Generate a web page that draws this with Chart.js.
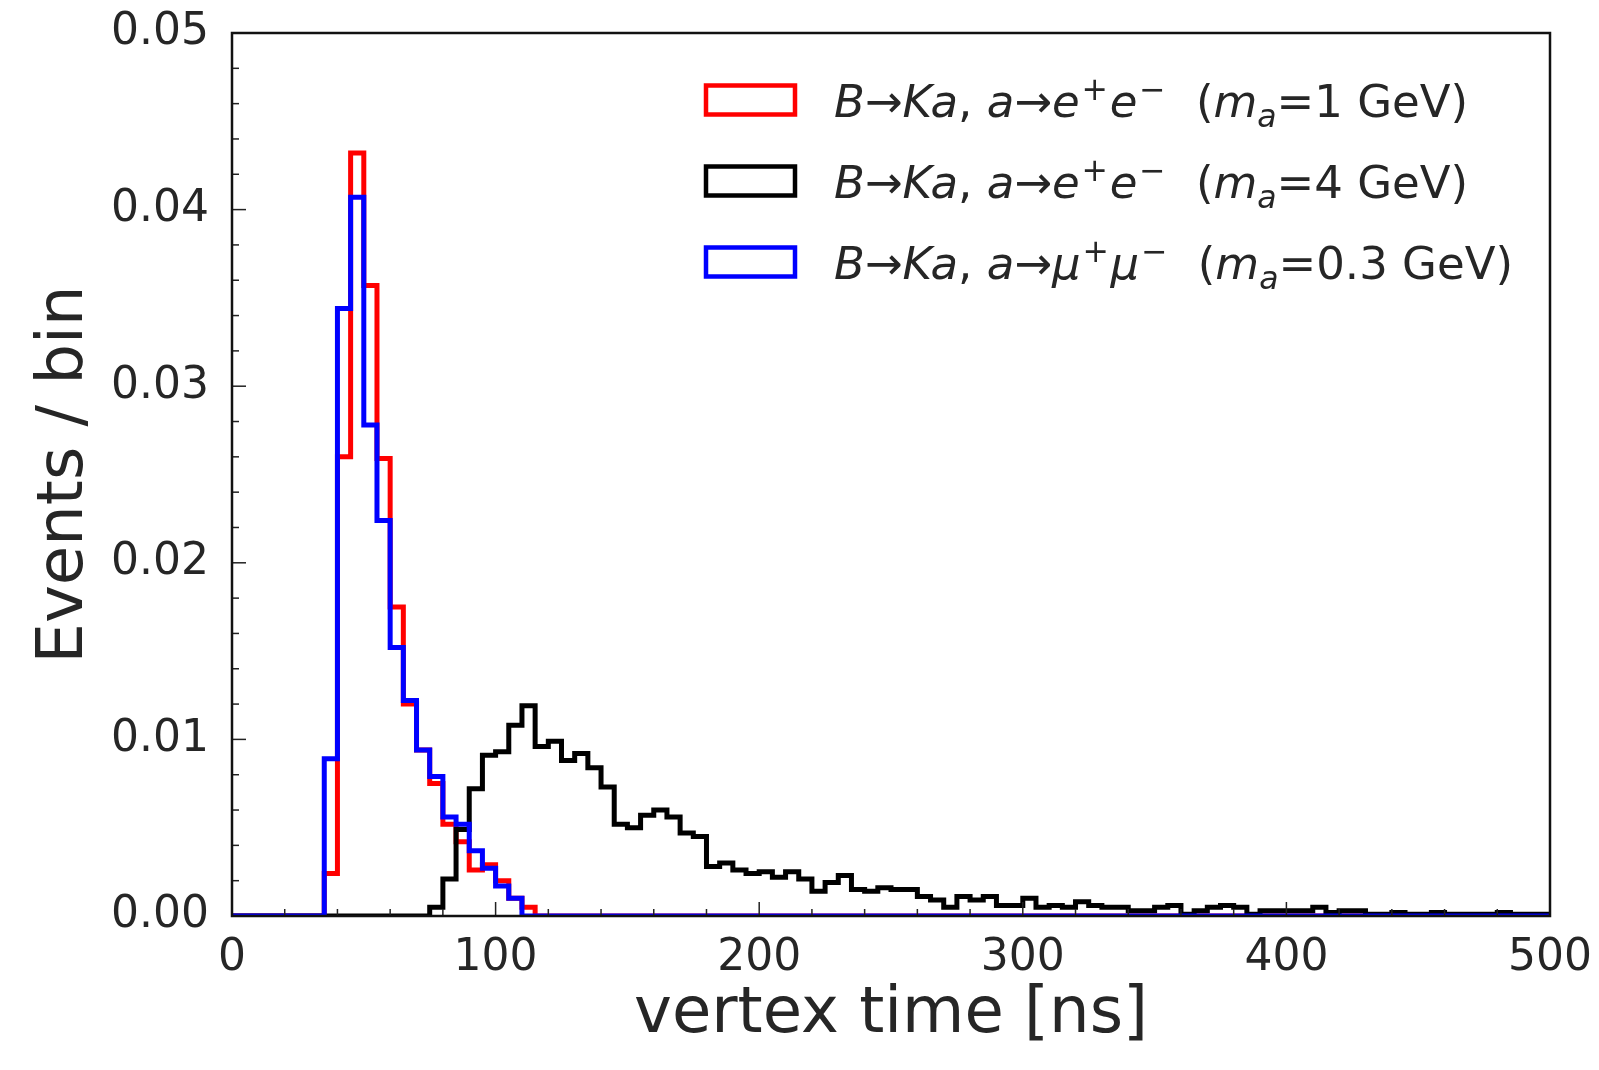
<!DOCTYPE html>
<html>
<head>
<meta charset="utf-8">
<title>vertex time</title>
<script src="https://cdn.jsdelivr.net/npm/chart.js@4.4.1/dist/chart.umd.min.js"></script>
<style>
  html, body { margin: 0; padding: 0; background: #ffffff; }
</style>
</head>
<body>
<canvas id="timeChart" width="1599" height="1070"></canvas>
<script>
// histogram: 100 bins of 5 ns between 0 and 500 ns
var binWidth = 5;
var xTicks = [0, 100, 200, 300, 400, 500];
var yTicks = [0.00, 0.01, 0.02, 0.03, 0.04, 0.05];

// B -> K a, a -> e+e- (m_a = 1 GeV)
var redValues = [
    0, 0, 0, 0, 0, 0, 0, 0.0024, 0.0260, 0.0432,
    0.0357, 0.0259, 0.0175, 0.0120, 0.0094, 0.0075, 0.0052, 0.0042, 0.0026, 0.0029,
    0.0020, 0.0010, 0.0005, 0, 0, 0, 0, 0, 0, 0,
    0, 0, 0, 0, 0, 0, 0, 0, 0, 0,
    0, 0, 0, 0, 0, 0, 0, 0, 0, 0,
    0, 0, 0, 0, 0, 0, 0, 0, 0, 0,
    0, 0, 0, 0, 0, 0, 0, 0, 0, 0,
    0, 0, 0, 0, 0, 0, 0, 0, 0, 0,
    0, 0, 0, 0, 0, 0, 0, 0, 0, 0,
    0, 0, 0, 0, 0, 0, 0, 0, 0, 0
];

// B -> K a, a -> e+e- (m_a = 4 GeV)
var blackValues = [
    0, 0, 0, 0, 0, 0, 0, 0, 0, 0,
    0, 0, 0, 0, 0, 0.0005, 0.0021, 0.0049, 0.0072, 0.0091,
    0.0093, 0.0108, 0.0119, 0.0096, 0.0099, 0.0088, 0.0092, 0.0084, 0.0073, 0.0052,
    0.0050, 0.0057, 0.0060, 0.0056, 0.0047, 0.0045, 0.0028, 0.0030, 0.0026, 0.0024,
    0.0025, 0.0022, 0.0025, 0.0021, 0.0014, 0.0019, 0.0023, 0.0015, 0.0014, 0.0016,
    0.0015, 0.0015, 0.0011, 0.0009, 0.0005, 0.0011, 0.0009, 0.0011, 0.0006, 0.0006,
    0.0010, 0.0005, 0.0006, 0.0005, 0.0008, 0.0006, 0.0005, 0.0005, 0.0003, 0.0003,
    0.0005, 0.0006, 0.0001, 0.0003, 0.0005, 0.0006, 0.0005, 0.0001, 0.0003, 0.0003,
    0.0003, 0.0003, 0.0005, 0.0002, 0.0003, 0.0003, 0.0001, 0.0001, 0.0002, 0.0001,
    0.0001, 0.0002, 0.0001, 0.0001, 0.0001, 0.0001, 0.0002, 0.0001, 0.0001, 0.0001
];

// B -> K a, a -> mu+mu- (m_a = 0.3 GeV)
var blueValues = [
    0, 0, 0, 0, 0, 0, 0, 0.0089, 0.0344, 0.0407,
    0.0278, 0.0224, 0.0152, 0.0122, 0.0094, 0.0079, 0.0056, 0.0052, 0.0037, 0.0027,
    0.0017, 0.0010, 0, 0, 0, 0, 0, 0, 0, 0,
    0, 0, 0, 0, 0, 0, 0, 0, 0, 0,
    0, 0, 0, 0, 0, 0, 0, 0, 0, 0,
    0, 0, 0, 0, 0, 0, 0, 0, 0, 0,
    0, 0, 0, 0, 0, 0, 0, 0, 0, 0,
    0, 0, 0, 0, 0, 0, 0, 0, 0, 0,
    0, 0, 0, 0, 0, 0, 0, 0, 0, 0,
    0, 0, 0, 0, 0, 0, 0, 0, 0, 0
];

// legend labels, split in runs so the math parts can be italic / sub / sup
var legendLabels = [
    [{t: 'B', it: 1}, {t: '\u2192'}, {t: 'Ka', it: 1}, {t: ', '}, {t: 'a', it: 1}, {t: '\u2192'},
     {t: 'e', it: 1}, {t: '+', sup: 1}, {t: 'e', it: 1}, {t: '\u2212', sup: 1}, {t: '  ('},
     {t: 'm', it: 1}, {t: 'a', it: 1, sub: 1}, {t: '=1 GeV)'}],
    [{t: 'B', it: 1}, {t: '\u2192'}, {t: 'Ka', it: 1}, {t: ', '}, {t: 'a', it: 1}, {t: '\u2192'},
     {t: 'e', it: 1}, {t: '+', sup: 1}, {t: 'e', it: 1}, {t: '\u2212', sup: 1}, {t: '  ('},
     {t: 'm', it: 1}, {t: 'a', it: 1, sub: 1}, {t: '=4 GeV)'}],
    [{t: 'B', it: 1}, {t: '\u2192'}, {t: 'Ka', it: 1}, {t: ', '}, {t: 'a', it: 1}, {t: '\u2192'},
     {t: '\u03bc', it: 1}, {t: '+', sup: 1}, {t: '\u03bc', it: 1}, {t: '\u2212', sup: 1}, {t: '  ('},
     {t: 'm', it: 1}, {t: 'a', it: 1, sub: 1}, {t: '=0.3 GeV)'}]
];
var seriesColors = ['#ff0000', '#000000', '#0000ff'];

var FONT = '"DejaVu Sans", "Liberation Sans", sans-serif';
var TEXT = '#262626';

// step points: one at each left bin edge, plus the closing right edge
function stepPoints(values) {
    var pts = values.map(function (v, i) { return {x: i * binWidth, y: v}; });
    pts.push({x: values.length * binWidth, y: values[values.length - 1]});
    return pts;
}

function drawRuns(ctx, runs, x, y, size) {
    runs.forEach(function (r) {
        var small = r.sub || r.sup;
        var s = small ? size * 0.7 : size;
        ctx.font = (r.it ? 'italic ' : '') + s + 'px ' + FONT;
        var dy = r.sup ? -size * 0.38 : (r.sub ? size * 0.22 : 0);
        if (r.sup) x += size * 0.04;
        ctx.fillText(r.t, x, y + dy);
        x += ctx.measureText(r.t).width;
        if (r.sup) x += size * 0.04;
    });
}

// inward ticks on left and bottom, full frame, legend inside the axes
var framePlugin = {
    id: 'frame',
    afterDatasetsDraw: function (chart) {
        var ctx = chart.ctx;
        var a = chart.chartArea;
        var xs = chart.scales.x, ys = chart.scales.y;
        ctx.save();
        ctx.strokeStyle = '#222222';
        ctx.lineWidth = 1.5;
        var v, px, major;
        for (v = 0; v <= 500; v += 20) {
            px = xs.getPixelForValue(v);
            major = v % 100 === 0;
            ctx.beginPath();
            ctx.moveTo(px, a.bottom);
            ctx.lineTo(px, a.bottom - (major ? 14 : 7));
            ctx.stroke();
        }
        for (v = 0; v <= 25; v += 1) {
            px = ys.getPixelForValue(v * 0.002);
            major = v % 5 === 0;
            ctx.beginPath();
            ctx.moveTo(a.left, px);
            ctx.lineTo(a.left + (major ? 14 : 7), px);
            ctx.stroke();
        }
        ctx.strokeStyle = '#111111';
        ctx.lineWidth = 2.5;
        ctx.strokeRect(a.left, a.top, a.right - a.left, a.bottom - a.top);

        // legend
        var boxX = a.right - 844, boxW = 89, boxH = 29;
        ctx.textBaseline = 'alphabetic';
        ctx.textAlign = 'left';
        legendLabels.forEach(function (runs, i) {
            var cy = a.top + 67 + i * 81;
            ctx.strokeStyle = seriesColors[i];
            ctx.lineWidth = 4.5;
            ctx.strokeRect(boxX, cy - boxH / 2, boxW, boxH);
            ctx.fillStyle = TEXT;
            drawRuns(ctx, runs, boxX + 128, cy + 17, 45);
        });
        ctx.restore();
    }
};

document.addEventListener('DOMContentLoaded', function () {
    var ctx = document.getElementById('timeChart').getContext('2d');

    var myChart = new Chart(ctx, {
        type: 'line',
        data: {
            datasets: [{
                label: 'm_a = 1 GeV (e+e-)',
                data: stepPoints(redValues),
                borderColor: seriesColors[0],
                order: 2
            }, {
                label: 'm_a = 4 GeV (e+e-)',
                data: stepPoints(blackValues),
                borderColor: seriesColors[1],
                order: 1
            }, {
                label: 'm_a = 0.3 GeV (mu+mu-)',
                data: stepPoints(blueValues),
                borderColor: seriesColors[2],
                order: 0
            }]
        },
        options: {
            responsive: false,
            animation: false,
            parsing: false,
            datasets: {
                line: {
                    stepped: true,
                    borderWidth: 5,
                    pointRadius: 0,
                    fill: false,
                    borderJoinStyle: 'miter'
                }
            },
            layout: {
                padding: {left: 0, top: 33, right: 49, bottom: 0}
            },
            plugins: {
                legend: {display: false},
                tooltip: {enabled: false}
            },
            scales: {
                x: {
                    type: 'linear',
                    min: 0,
                    max: 500,
                    grid: {display: false, drawTicks: false},
                    border: {display: false},
                    afterBuildTicks: function (scale) {
                        scale.ticks = xTicks.map(function (v) { return {value: v}; });
                    },
                    ticks: {
                        autoSkip: false,
                        maxRotation: 0,
                        padding: 16,
                        color: TEXT,
                        font: {family: FONT, size: 44}
                    },
                    title: {
                        display: true,
                        text: 'vertex time [ns]',
                        color: TEXT,
                        font: {family: FONT, size: 64},
                        padding: {top: 0, bottom: 16}
                    },
                    afterFit: function (scale) {
                        scale.height = 154;
                        scale.paddingLeft = 0;
                        scale.paddingRight = 0;
                    }
                },
                y: {
                    type: 'linear',
                    min: 0,
                    max: 0.05,
                    grid: {display: false, drawTicks: false},
                    border: {display: false},
                    afterBuildTicks: function (scale) {
                        scale.ticks = yTicks.map(function (v) { return {value: v}; });
                    },
                    ticks: {
                        autoSkip: false,
                        padding: 23,
                        color: TEXT,
                        font: {family: FONT, size: 44},
                        callback: function (v) { return Number(v).toFixed(2); }
                    },
                    title: {
                        display: true,
                        text: 'Events / bin',
                        color: TEXT,
                        font: {family: FONT, size: 64},
                        padding: {top: 27, bottom: 0}
                    },
                    afterFit: function (scale) {
                        scale.width = 232;
                        scale.paddingTop = 0;
                        scale.paddingBottom = 0;
                    }
                }
            }
        },
        plugins: [framePlugin]
    });
});
</script>
</body>
</html>
